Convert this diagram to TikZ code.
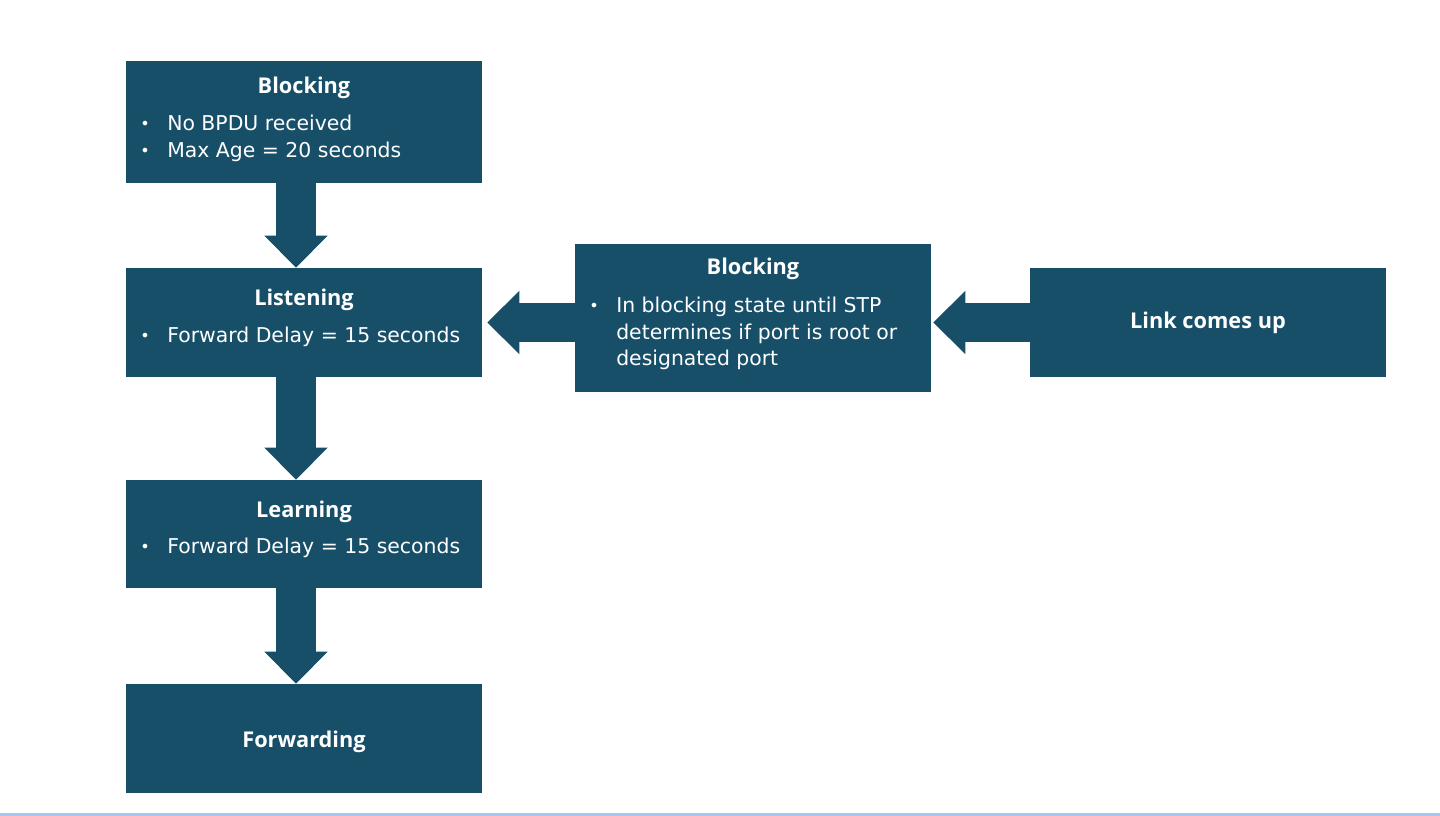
\documentclass[tikz,border=0pt]{standalone}
\usepackage{fontspec}
\setmainfont{DejaVu Sans}
\newfontfamily\titlefont{Open Sans}
\usetikzlibrary{arrows.meta,calc}
\definecolor{boxblue}{HTML}{174F69}
\definecolor{rulebl}{HTML}{A6C8EE}
\tikzset{
  stbox/.style={fill=boxblue, draw=none, inner sep=0pt, minimum width=267pt},
  ttl/.style={text=white, font=\titlefont\bfseries\fontsize{16.3pt}{18pt}\selectfont, anchor=base, inner sep=0pt},
  itm/.style={text=white, font=\fontsize{15.3pt}{18pt}\selectfont, anchor=base west, inner sep=0pt},
  bul/.style={text=white, font=\fontsize{12pt}{18pt}\selectfont, anchor=base, inner sep=0pt},
  bigarrow/.style={draw=boxblue, line width=29.5pt, -{Triangle[width=46pt,length=24pt]}}
}
\begin{document}
\begin{tikzpicture}[x=0.75pt,y=-0.75pt]
\useasboundingbox (0,0) rectangle (1440,816);
\fill[rulebl] (0,812.5) rectangle (1440,816);
% boxes
\node[stbox, minimum height=91.5pt] (b1) at (304,122) {};
\node[stbox, minimum height=81.75pt] (b2) at (304,322.5) {};
\node[stbox, minimum height=81pt] (b3) at (304,534) {};
\node[stbox, minimum height=81.75pt] (b4) at (304,738.5) {};
\node[stbox, minimum height=111pt] (b5) at (753,318) {};
\node[stbox, minimum height=81.75pt] (b6) at (1208,322.5) {};
% texts
\node[ttl] (t1) at (304,94) {Blocking};
\node[bul] (u1a) at (145,130) {•};
\node[itm] (i1a) at (167,131) {No BPDU received};
\node[bul] (u1b) at (145,157) {•};
\node[itm] (i1b) at (167,158) {Max Age = 20 seconds};
\node[ttl] (t2) at (304,306) {Listening};
\node[bul] (u2) at (145,342) {•};
\node[itm] (i2) at (167,343) {Forward Delay = 15 seconds};
\node[ttl] (t3) at (304,518) {Learning};
\node[bul] (u3) at (145,553) {•};
\node[itm] (i3) at (167,554) {Forward Delay = 15 seconds};
\node[ttl] (t4) at (304,747) {Forwarding};
\node[ttl] (t5) at (753,275) {Blocking};
\node[bul] (u5) at (594,312) {•};
\node[itm] (i5a) at (616,313) {In blocking state until STP};
\node[itm] (i5b) at (616,340) {determines if port is root or};
\node[itm] (i5c) at (616,366) {designated port};
\node[ttl] (t6) at (1208,329) {Link comes up};
% arrows
\draw[bigarrow] ($(b1.south)+(-8,0)$) -- ($(b2.north)+(-8,0)$);
\draw[bigarrow] ($(b2.south)+(-8,0)$) -- ($(b3.north)+(-8,0)$);
\draw[bigarrow] ($(b3.south)+(-8,0)$) -- ($(b4.north)+(-8,0)$);
\draw[bigarrow] (b5.west |- b2.east) -- ($(b2.east)+(5,0)$);
\draw[bigarrow] (b6.west) -- ($(b5.east |- b6.west)+(2,0)$);
\end{tikzpicture}
\end{document}
